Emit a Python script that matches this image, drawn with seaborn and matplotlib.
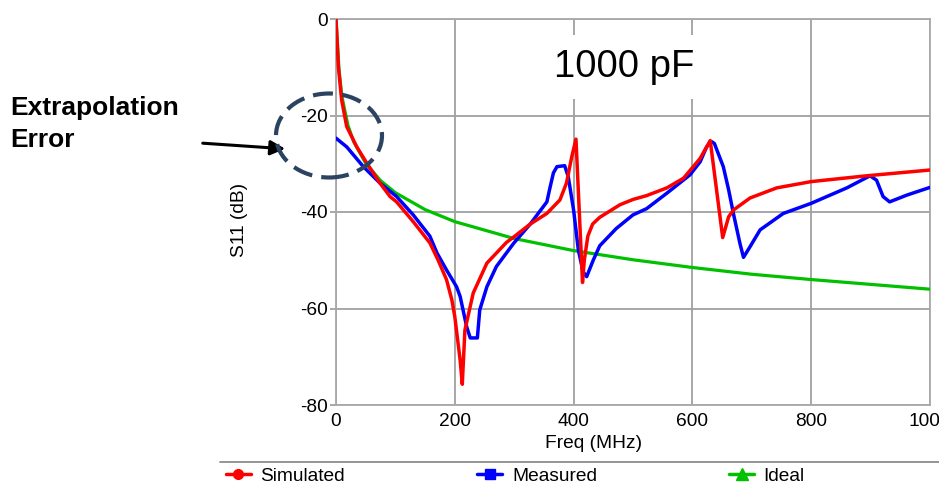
import matplotlib
matplotlib.use("Agg")
import matplotlib.pyplot as plt
import numpy as np
import pandas as pd
import seaborn as sns
from matplotlib.lines import Line2D
from matplotlib.patches import Ellipse, FancyArrowPatch

# values (freq in MHz, S11 in dB)
sim_freq = [0, 4, 9.5, 18, 35, 52, 74, 91, 102, 130, 158, 172, 186, 195, 200, 209,
            212.6, 217, 231, 254, 287, 299, 327, 355, 377, 388, 397, 404, 415, 418,
            424, 432, 444, 478, 500, 523, 557, 585, 613, 618, 630, 651, 661, 669,
            697, 742, 800, 893, 1000]
sim_s11 = [0, -9.9, -16.8, -22.3, -26.5, -29.9, -34.0, -36.8, -37.9, -42.0, -46.4,
           -50.0, -54.0, -58.2, -61.7, -70.7, -75.7, -64.5, -56.8, -50.6, -46.3,
           -45.2, -42.5, -40.3, -37.5, -34.0, -28.5, -24.9, -54.6, -50.0, -45.0,
           -42.5, -41.1, -38.5, -37.4, -36.6, -35.0, -33.0, -28.9, -27.8, -25.2,
           -45.3, -41.0, -39.6, -37.1, -35.0, -33.7, -32.5, -31.3]

meas_freq = [0, 18, 46, 74, 102, 130, 158, 170, 186, 203, 209, 220, 226, 238, 242,
             254, 270, 299, 327, 355, 360, 366, 372, 385, 391, 400, 408, 416, 422,
             433, 444, 472, 500, 523, 557, 596, 613, 624, 632, 637, 652, 661, 669,
             680, 686, 697, 714, 753, 800, 860, 899, 910, 921, 932, 961, 1000]
meas_s11 = [-24.7, -26.5, -30.6, -34.0, -36.8, -40.6, -45.0, -48.5, -52.0, -55.5,
            -57.5, -63.8, -66.1, -66.1, -60.3, -55.5, -51.3, -46.5, -42.5, -37.9,
            -35.1, -31.9, -30.6, -30.4, -32.7, -39.6, -47.9, -52.4, -53.4, -50.0,
            -47.0, -43.4, -40.6, -39.3, -36.1, -32.3, -29.6, -26.5, -25.4, -25.8,
            -30.6, -35.4, -40.3, -46.5, -49.4, -47.2, -43.7, -40.3, -38.2, -35.0,
            -32.5, -33.4, -36.8, -37.9, -36.5, -34.9]

ideal_freq = [0, 2, 5, 10, 20, 30, 50, 75, 100, 150, 200, 300, 400, 500, 600, 700,
              800, 900, 1000]
ideal_s11 = [0, -4.1, -10.4, -16.1, -22.0, -25.5, -29.9, -33.5, -36.0, -39.5, -42.0,
             -45.5, -48.0, -49.9, -51.5, -52.9, -54.0, -55.0, -56.0]

x_ticks = [0, 200, 400, 600, 800, 1000]
y_ticks = [0, -20, -40, -60, -80]

W, H = 939, 487

sns.set_theme(style="white")
plt.rcParams["font.family"] = ["Liberation Sans", "DejaVu Sans"]
plt.rcParams["axes.unicode_minus"] = False
plt.rcParams["text.color"] = "black"
plt.rcParams["axes.labelcolor"] = "black"

fig = plt.figure(figsize=(W / 100, H / 100), dpi=100)
ax = fig.add_axes([336 / W, 1 - 405 / H, (930 - 336) / W, (405 - 19) / H])

ideal_df = pd.DataFrame({"freq": ideal_freq, "s11": ideal_s11})
meas_df = pd.DataFrame({"freq": meas_freq, "s11": meas_s11})
sim_df = pd.DataFrame({"freq": sim_freq, "s11": sim_s11})

sns.lineplot(data=ideal_df, x="freq", y="s11", color="#00c000", lw=2.3,
             estimator=None, ax=ax, zorder=3)
sns.lineplot(data=meas_df, x="freq", y="s11", color="#0000ff", lw=2.5,
             estimator=None, ax=ax, zorder=4)
sns.lineplot(data=sim_df, x="freq", y="s11", color="#ff0000", lw=2.5,
             estimator=None, ax=ax, zorder=5)

ax.set_xlim(0, 1000)
ax.set_ylim(-80, 0)
ax.set_xticks(x_ticks)
ax.set_yticks(y_ticks)
ax.grid(True, color="#a0a0a0", lw=1.3)
ax.set_axisbelow(True)
for sp in ax.spines.values():
    sp.set_color("#a8a8a8")
    sp.set_linewidth(1.3)
ax.tick_params(axis="y", length=4, color="#a0a0a0", width=1.3, pad=2,
               labelsize=13.8, labelcolor="black", left=True)
ax.tick_params(axis="x", length=0, pad=6, labelsize=13.8, labelcolor="black")

ax.set_xlabel("Freq (MHz)", fontsize=13.8, color="black")
ax.set_ylabel("S11 (dB)", fontsize=13.8, color="black")
ax.xaxis.set_label_coords((594 - 336) / 594, -(435 - 405) / 386)
ax.yaxis.set_label_coords((248 - 336) / 594, (405 - 220) / 386)

fig.text(624 / W, 1 - 67 / H, "1000 pF", fontsize=27.5, ha="center", va="center",
         color="black", bbox=dict(facecolor="white", edgecolor="none", pad=10),
         zorder=10)

fig.text(10 / W, 1 - 96 / H, "Extrapolation\nError", fontsize=19,
         fontweight="bold", color="black", ha="left", va="top", linespacing=1.42)

fig.add_artist(FancyArrowPatch((200 / W, 1 - 143 / H), (288 / W, 1 - 149 / H),
                               transform=fig.transFigure, arrowstyle="-|>",
                               mutation_scale=22, lw=2.2, color="black"))
fig.add_artist(Ellipse((329 / W, 1 - 135.5 / H), 106 / W, 84 / H,
                       transform=fig.transFigure, fill=False, edgecolor="#2b4361",
                       lw=3, linestyle=(0, (4.8, 2.2))))

fig.add_artist(Line2D([220 / W, 1], [1 - 462 / H, 1 - 462 / H],
                      transform=fig.transFigure, color="#8c8c8c", lw=1.3))

handles = [
    Line2D([], [], color="#ff0000", marker="o", markersize=7, lw=2.5),
    Line2D([], [], color="#0000ff", marker="s", markersize=7, lw=2.5),
    Line2D([], [], color="#00c000", marker="^", markersize=8, lw=2.5),
]
fig.legend(handles, ["Simulated", "Measured", "Ideal"], loc="center left",
           bbox_to_anchor=(226 / W, 1 - 476 / H), ncol=3, frameon=False,
           fontsize=13.8, handlelength=1.3, handletextpad=0.5,
           columnspacing=6.9, borderpad=0, borderaxespad=0)

fig.savefig("out.png", dpi=100)
